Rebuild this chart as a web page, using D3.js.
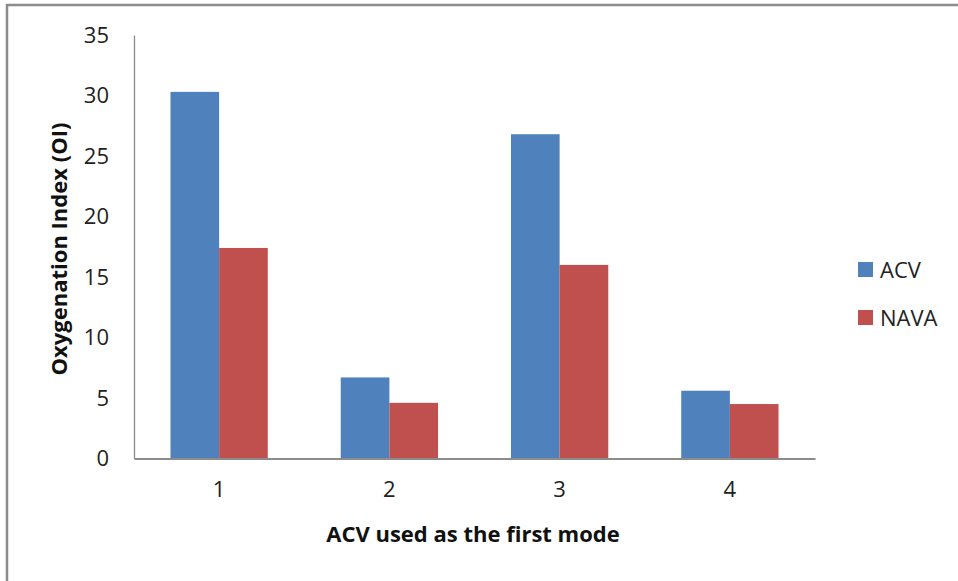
<!DOCTYPE html>
<html>
<head>
<meta charset="utf-8">
<script src="https://cdn.jsdelivr.net/npm/d3@7"></script>
<style>
  html, body { margin: 0; padding: 0; background: #fff; }
  svg { display: block; }
</style>
</head>
<body>
<svg id="chart" width="958" height="581"></svg>
<script>
// Oxygenation index by ventilation mode, ACV used as the first mode
const categories = ["1", "2", "3", "4"];
const seriesNames = ["ACV", "NAVA"];
const acvValues = [30.3, 6.7, 26.8, 5.6];
const navaValues = [17.4, 4.6, 16.0, 4.5];
const yTicks = [0, 5, 10, 15, 20, 25, 30, 35];
const colors = ["#4F81BD", "#C0504D"];

const font = "'Open Sans', sans-serif";
const svg = d3.select("#chart");

// outer frame
svg.append("rect")
  .attr("x", 7).attr("y", 5)
  .attr("width", 1000).attr("height", 1000)
  .attr("fill", "#fff")
  .attr("stroke", "#8c8c8c").attr("stroke-width", 2.5);

const plot = { left: 134, right: 815, top: 35, bottom: 458.5 };

const x = d3.scaleBand()
  .domain(categories)
  .range([plot.left, plot.right])
  .paddingInner(0).paddingOuter(0);

const y = d3.scaleLinear().domain([0, 35]).range([plot.bottom, plot.top]);

// bars: two per category, gap between groups 150% of a bar width
const barW = x.bandwidth() / 3.5;
const rows = categories.map((c, i) => ({ cat: c, values: [acvValues[i], navaValues[i]] }));
const g = svg.append("g");
rows.forEach(r => {
  r.values.forEach((v, j) => {
    const cx = x(r.cat) + x.bandwidth() / 2;
    g.append("rect")
      .attr("x", cx - barW + j * barW)
      .attr("y", y(v))
      .attr("width", barW)
      .attr("height", y(0) - y(v))
      .attr("fill", colors[j]);
  });
});

// y axis
const yAxis = d3.axisLeft(y).tickValues(yTicks).tickSize(0).tickPadding(25).tickFormat(d3.format("d"));
const ya = svg.append("g").attr("transform", `translate(${plot.left},0)`).call(yAxis);
ya.select(".domain").attr("stroke", "#8c8c8c").attr("stroke-width", 1.3);
ya.selectAll("text").attr("font-family", font).attr("font-size", 22).attr("fill", "#222");

// x axis
const xAxis = d3.axisBottom(x).tickSize(0).tickPadding(23);
const xa = svg.append("g").attr("transform", `translate(0,${plot.bottom})`).call(xAxis);
xa.select(".domain").attr("stroke", "#8c8c8c").attr("stroke-width", 2);
xa.selectAll("text").attr("font-family", font).attr("font-size", 22).attr("fill", "#222");

// axis titles
svg.append("text")
  .attr("x", 473)
  .attr("y", 542)
  .attr("text-anchor", "middle")
  .attr("font-family", font).attr("font-weight", "bold").attr("font-size", 22)
  .attr("fill", "#111")
  .text("ACV used as the first mode");

svg.append("text")
  .attr("transform", "translate(67,249) rotate(-90)")
  .attr("text-anchor", "middle")
  .attr("font-family", font).attr("font-weight", "bold").attr("font-size", 22)
  .attr("fill", "#111")
  .text("Oxygenation Index (OI)");

// legend
const legend = svg.append("g");
seriesNames.forEach((name, i) => {
  const ly = 262 + i * 48;
  legend.append("rect").attr("x", 858).attr("y", ly).attr("width", 15).attr("height", 15).attr("fill", colors[i]);
  legend.append("text").attr("x", 880).attr("y", ly + 15.5)
    .attr("font-family", font).attr("font-size", 22).attr("fill", "#222")
    .text(name);
});
</script>
</body>
</html>
